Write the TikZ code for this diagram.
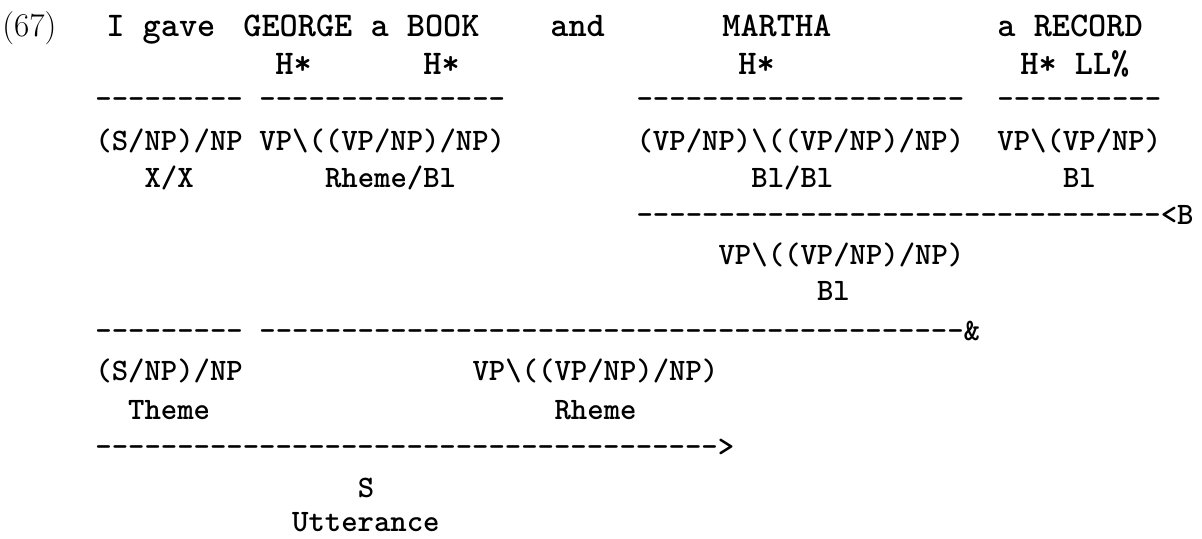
\documentclass[tikz,border=0pt]{standalone}
\newcommand\catfont{\fontsize{15.6pt}{18pt}\selectfont\ttfamily\bfseries}
\newcommand\wordfont{\fontsize{17.3pt}{20pt}\selectfont\ttfamily\bfseries}
\newcommand\bs{\textbackslash}
\newcommand\dashrun[1]{\foreach \d in {1,...,#1}{-\kern0pt}}

\begin{document}
\begin{tikzpicture}[x=0.5pt,y=-0.5pt,
  word/.style={anchor=base west,inner sep=0pt,font=\wordfont},
  cat/.style={anchor=base west,inner sep=0pt,font=\catfont}]
\useasboundingbox (0,0) rectangle (1202,538);

%% words and accents
\node [anchor=base west,inner sep=0pt,font=\fontsize{16.6pt}{20pt}\selectfont] (exno) at (2,36) {(67)};
\node [word] (igave) at (106,36) {I gave};
\node [word] (george) at (243,36) {GEORGE a BOOK};
\node [word] (and) at (550,36) {and};
\node [word] (martha) at (722,36) {MARTHA};
\node [word] (record) at (997,36) {a RECORD};
\node [word] (hgeorge) at (275,74) {H*};
\node [word] (hbook) at (423,74) {H*};
\node [word] (hmartha) at (738,74) {H*};
\node [word] (hrecord) at (1020,74) {H* LL\%};

%% lexical categories
\node [cat] (lexa) at (95,108) {\dashrun{9}};
\node [cat] (lexb) at (259,108) {\dashrun{15}};
\node [cat] (lexc) at (636.2,108) {\dashrun{20}};
\node [cat] (lexd) at (997,108) {\dashrun{10}};
\node [cat] (subj) at (95,150) {(S/NP)/NP};
\node [cat] (objs) at (259,150) {VP\bs((VP/NP)/NP)};
\node [cat] (conj) at (636.2,150) {(VP/NP)\bs((VP/NP)/NP)};
\node [cat] (rec) at (997,150) {VP\bs(VP/NP)};
\node [cat] (subjinf) at (144.2,187) {X/X};
\node [cat] (objsinf) at (324.6,187) {Rheme/Bl};
\node [cat] (conjinf) at (751,187) {Bl/Bl};
\node [cat] (recinf) at (1062.6,187) {Bl};

%% backward composition
\node [cat] (compline) at (636.2,224) {\dashrun{32}<B};
\node [cat] (comp) at (718.2,264) {VP\bs((VP/NP)/NP)};
\node [cat] (compinf) at (816.6,300) {Bl};

%% coordination
\node [cat] (coorda) at (95,340) {\dashrun{9}};
\node [cat] (coordb) at (259,340) {\dashrun{43}\&};
\node [cat] (theme) at (95,380) {(S/NP)/NP};
\node [cat] (rheme) at (472.2,380) {VP\bs((VP/NP)/NP)};
\node [cat] (themeinf) at (127.8,419) {Theme};
\node [cat] (rhemeinf) at (554.2,419) {Rheme};

%% forward application
\node [cat] (appline) at (95,456) {\dashrun{38}>};
\node [cat] (sent) at (357.4,497) {S};
\node [cat] (sentinf) at (291.8,531) {Utterance};

\end{tikzpicture}
\end{document}
